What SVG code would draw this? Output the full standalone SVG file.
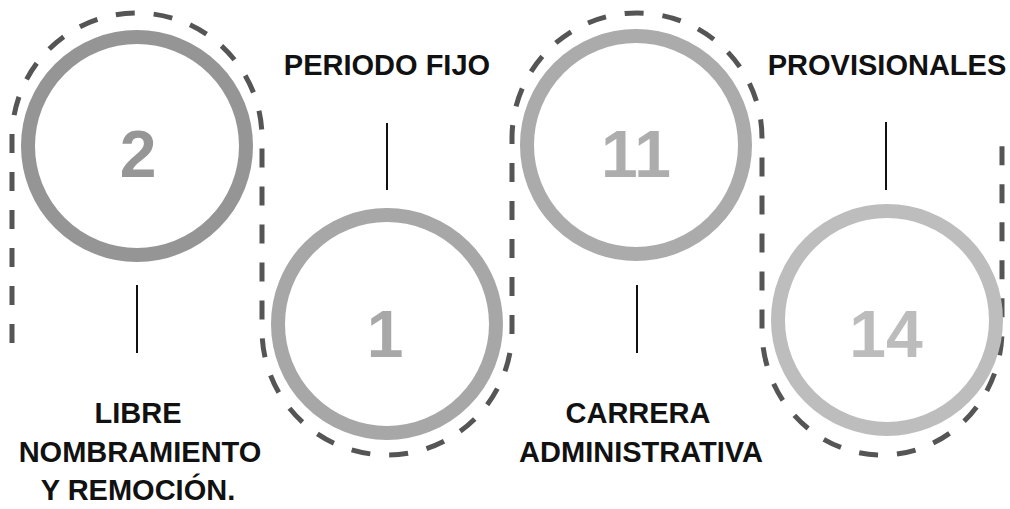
<svg xmlns="http://www.w3.org/2000/svg" width="1010" height="509" viewBox="0 0 1010 509">
<style>
.ring{fill:none;stroke-width:14}
.num{font-family:"Liberation Sans",Arial,sans-serif;font-weight:bold;font-size:66px;text-anchor:middle}
.lbl{font-family:"Liberation Sans",Arial,sans-serif;font-weight:bold;font-size:29px;fill:#111;text-anchor:middle}
.tick{stroke:#111;stroke-width:2}
.dash{fill:none;stroke:#555;stroke-width:5;stroke-dasharray:19 19}
</style>
<rect width="1010" height="509" fill="#fff"/>
<g id="connectors">
<path class="dash" d="M12,343 L12,138 A125,125 0 0 1 262,138 L262,330 A125,125 0 0 0 512,330 L512,138 A125,125 0 0 1 762,138 L762,330 A120,125 0 0 0 1002,330 L1002,143"/>
<line class="tick" x1="137" y1="285" x2="137" y2="353"/>
<line class="tick" x1="387" y1="123" x2="387" y2="190"/>
<line class="tick" x1="637" y1="285" x2="637" y2="353"/>
<line class="tick" x1="886" y1="122" x2="886" y2="190"/>
</g>
<g id="node-libre">
<circle class="ring" cx="137" cy="146" r="109" stroke="#959595"/>
<text class="num" x="138" y="177" fill="#969696">2</text>
<text class="lbl" x="138" y="423">LIBRE</text>
<text class="lbl" x="140" y="462">NOMBRAMIENTO</text>
<text class="lbl" x="138" y="500">Y REMOCIÓN.</text>
</g>
<g id="node-periodo">
<circle class="ring" cx="387" cy="324" r="109" stroke="#a7a7a7"/>
<text class="num" x="385" y="357" fill="#a8a8a8">1</text>
<text class="lbl" x="387" y="75">PERIODO FIJO</text>
</g>
<g id="node-carrera">
<circle class="ring" cx="636" cy="145" r="109" stroke="#ababab"/>
<text class="num" x="636" y="177" fill="#adadad">11</text>
<text class="lbl" x="638" y="423">CARRERA</text>
<text class="lbl" x="641" y="462">ADMINISTRATIVA</text>
</g>
<g id="node-provisionales">
<circle class="ring" cx="887" cy="320" r="109" stroke="#bdbdbd"/>
<text class="num" x="886" y="357" fill="#bcbcbc">14</text>
<text class="lbl" x="887" y="75">PROVISIONALES</text>
</g>
</svg>
